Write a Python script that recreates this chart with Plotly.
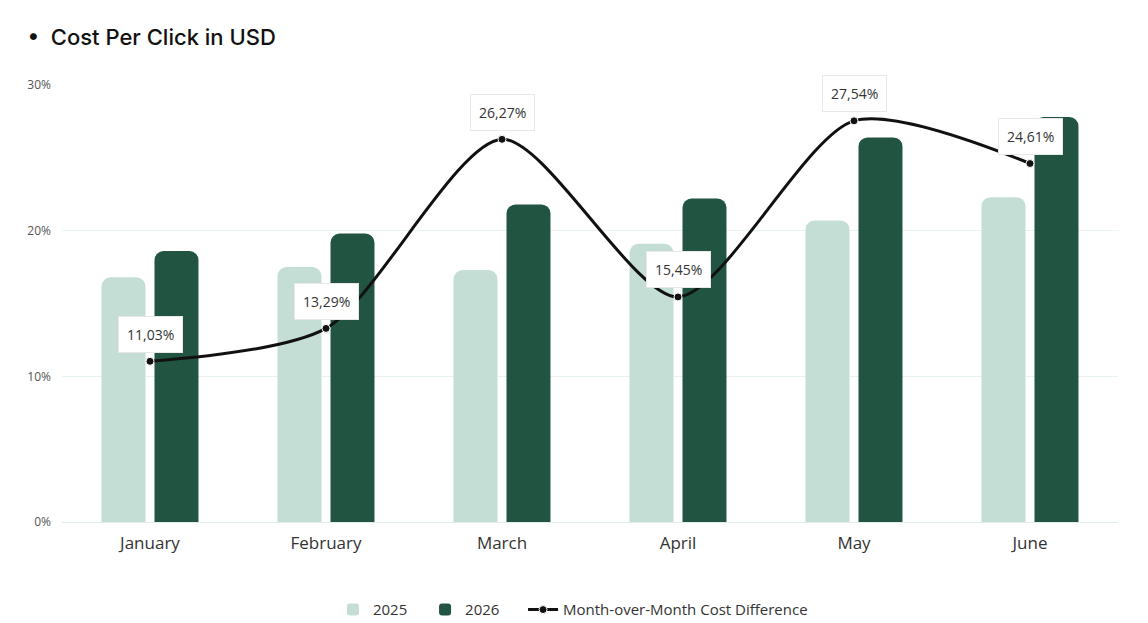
import plotly.graph_objects as go

months = ["January", "February", "March", "April", "May", "June"]
cpc_2025 = [16.8, 17.5, 17.3, 19.1, 20.7, 22.3]
cpc_2026 = [18.6, 19.8, 21.8, 22.2, 26.4, 27.8]
mom_diff = [11.03, 13.29, 26.27, 15.45, 27.54, 24.61]
y_ticks = [0, 10, 20, 30]

C2025 = "#c5ded5"
C2026 = "#215542"
FONT = "Open Sans"

fig = go.Figure()
fig.add_trace(go.Bar(x=months, y=cpc_2025, name="2025", legend="legend",
                     marker=dict(color=C2025, line=dict(width=0)), hoverinfo="skip"))
fig.add_trace(go.Bar(x=months, y=cpc_2026, name="2026", legend="legend2",
                     marker=dict(color=C2026, line=dict(width=0)), hoverinfo="skip"))
fig.add_trace(go.Scatter(x=months, y=mom_diff, name="Month-over-Month Cost Difference",
                         legend="legend3", mode="lines+markers",
                         line=dict(color="#111111", width=3, shape="spline", smoothing=0.75),
                         marker=dict(color="#111111", size=8, line=dict(color="white", width=1)),
                         hoverinfo="skip"))

for m, v in zip(months, mom_diff):
    fig.add_annotation(x=m, y=v, text=f"{v:.2f}%".replace(".", ","), showarrow=False,
                       yshift=27, bgcolor="white", bordercolor="#e8e8e8", borderwidth=1,
                       borderpad=8, font=dict(family=FONT, size=14, color="#333333"))

leg_common = dict(orientation="h", xanchor="left", y=-0.201, yanchor="middle",
                  font=dict(family=FONT, size=15, color="#333333"), bgcolor="rgba(0,0,0,0)")

fig.update_layout(
    width=1140, height=615,
    paper_bgcolor="white", plot_bgcolor="white",
    margin=dict(l=54, r=30, t=77, b=101, autoexpand=False),
    barmode="group", bargap=0.398, bargroupgap=0.17, barcornerradius=9,
    title=dict(text="•  Cost Per Click in USD", x=0.017, xanchor="left", xref="container",
               y=0.953, yanchor="middle", yref="container",
               font=dict(family="Inter", size=22, color="#111111", weight=500)),
    xaxis=dict(showgrid=False, showline=False, zeroline=False, ticks="", automargin=False,
               ticklabelstandoff=9,
               tickfont=dict(family=FONT, size=17, color="#333333")),
    yaxis=dict(range=[0, 30], tickvals=y_ticks, ticktext=[f"{t}%" for t in y_ticks],
               showgrid=True, gridcolor="#e9f3ee", gridwidth=1, zeroline=True,
               zerolinecolor="#e0efe6", zerolinewidth=1, showline=False, ticks="",
               ticklabelstandoff=10, automargin=False,
               tickfont=dict(family=FONT, size=12, color="#555555")),
    legend=dict(x=0.2566, **leg_common),
    legend2=dict(x=0.3438, **leg_common),
    legend3=dict(x=0.4366, **leg_common),
    showlegend=True,
)

fig.write_html("out.html")
